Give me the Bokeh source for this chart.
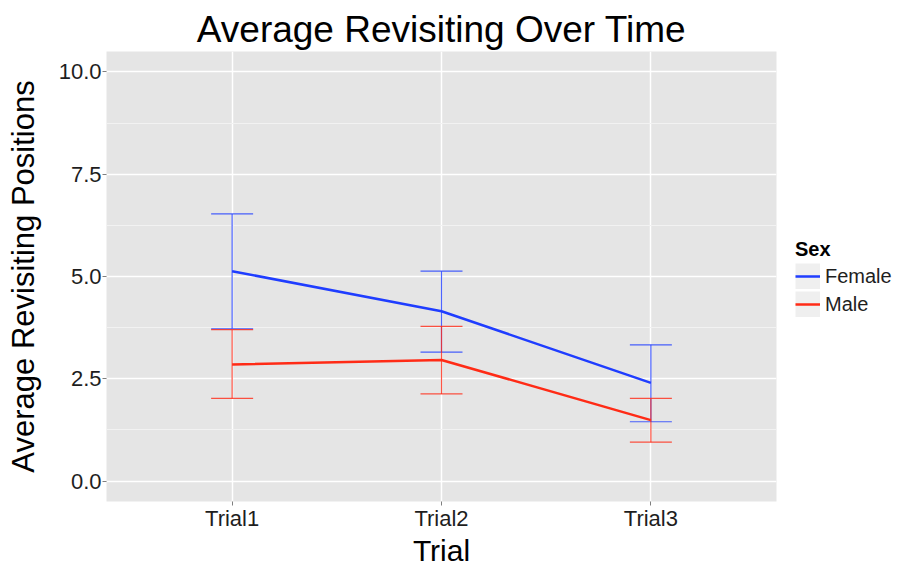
from bokeh.plotting import figure
from bokeh.models import (ColumnDataSource, FactorRange, Range1d, FixedTicker, Whisker, TeeHead,
                          Legend, LegendItem, PrintfTickFormatter)
from bokeh.embed import file_html
from bokeh.resources import INLINE

trials = ["Trial1", "Trial2", "Trial3"]
female_mean = [5.13, 4.15, 2.40]
female_lower = [3.72, 3.15, 1.45]
female_upper = [6.53, 5.13, 3.33]
male_mean = [2.85, 2.96, 1.49]
male_lower = [2.02, 2.13, 0.95]
male_upper = [3.70, 3.78, 2.02]
y_ticks = [0, 2.5, 5, 7.5, 10]
y_minor = [1.25, 3.75, 6.25, 8.75]

BLUE = "#1f3dff"
RED = "#ff2b16"
FONT = "Liberation Sans"

p = figure(frame_width=670, frame_height=450, output_backend="svg", toolbar_location=None,
           x_range=FactorRange(factors=trials, range_padding=0.1, range_padding_units="absolute"),
           y_range=Range1d(-0.5, 10.5),
           min_border_left=106, min_border_top=51, min_border_right=122, min_border_bottom=69,
           title="Average Revisiting Over Time")
# range far outside the frame: used only for the legend key background renderer
p.extra_y_ranges = {"legend_only": Range1d(start=100, end=200)}

p.background_fill_color = "#e5e5e5"
p.border_fill_color = "white"
p.outline_line_color = None

p.title.align = "center"
p.title.text_font = FONT
p.title.text_font_size = "37px"
p.title.text_font_style = "normal"
p.title.text_color = "black"
p.title.standoff = 3

# grids
p.xgrid.grid_line_color = "white"
p.xgrid.grid_line_width = 1.5
p.ygrid.ticker = FixedTicker(ticks=y_ticks, minor_ticks=y_minor)
p.ygrid.grid_line_color = "white"
p.ygrid.grid_line_width = 1.5
p.ygrid.minor_grid_line_color = "#f2f2f2"
p.ygrid.minor_grid_line_width = 1

# axes
for ax in (p.xaxis[0], p.yaxis[0]):
    ax.axis_line_color = None
    ax.major_tick_line_color = "#7f7f7f"
    ax.major_tick_in = 0
    ax.major_tick_out = 4
    ax.minor_tick_line_color = None
    ax.major_label_text_font = FONT
    ax.major_label_text_font_size = "22px"
    ax.major_label_text_color = "#1e1e1e"
    ax.axis_label_text_font = FONT
    ax.axis_label_text_font_style = "normal"
    ax.axis_label_text_color = "black"

p.xaxis.axis_label_text_font_size = "30px"
p.yaxis.axis_label_text_font_size = "31px"
p.xaxis.major_label_standoff = 0
p.xaxis.axis_label_standoff = 0
p.yaxis.major_label_standoff = 1
p.yaxis.axis_label_standoff = 15

p.yaxis.ticker = FixedTicker(ticks=y_ticks, minor_ticks=y_minor)
p.yaxis.formatter = PrintfTickFormatter(format="%.1f")
p.xaxis.axis_label = "Trial"
p.yaxis.axis_label = "Average Revisiting Positions"

src_f = ColumnDataSource(dict(trial=trials, mean=female_mean, lower=female_lower, upper=female_upper))
src_m = ColumnDataSource(dict(trial=trials, mean=male_mean, lower=male_lower, upper=male_upper))

for src, col in ((src_f, BLUE), (src_m, RED)):
    w = Whisker(base="trial", upper="upper", lower="lower", source=src, dimension="height",
                line_color=col, line_width=1.2, line_alpha=0.8,
                upper_head=TeeHead(size=42, line_color=col, line_width=1.2, line_alpha=0.8),
                lower_head=TeeHead(size=42, line_color=col, line_width=1.2, line_alpha=0.8))
    p.add_layout(w)

lf = p.line("trial", "mean", source=src_f, line_color=BLUE, line_width=2.5)
lm = p.line("trial", "mean", source=src_m, line_color=RED, line_width=2.5)

# grey legend-key background (mapped off-frame, so only visible in the legend)
key_bg = p.line("trial", "mean", source=src_f, y_range_name="legend_only",
                line_width=26, line_color="#efefef")

legend = Legend(items=[LegendItem(label="Female", renderers=[key_bg, lf]),
                       LegendItem(label="Male", renderers=[key_bg, lm])],
                location=(19, 184), title="Sex")
legend.title_text_font = FONT
legend.title_text_font_size = "20px"
legend.title_text_font_style = "bold"
legend.title_text_color = "black"
legend.title_standoff = 2
legend.label_text_font = FONT
legend.label_text_font_size = "20px"
legend.label_text_color = "#1e1e1e"
legend.glyph_width = 25
legend.glyph_height = 26
legend.label_standoff = 5
legend.spacing = 2
legend.padding = 0
legend.margin = 0
legend.background_fill_alpha = 0
legend.border_line_color = None
p.add_layout(legend, "right")

open("out.html", "w").write(file_html(p, INLINE))
